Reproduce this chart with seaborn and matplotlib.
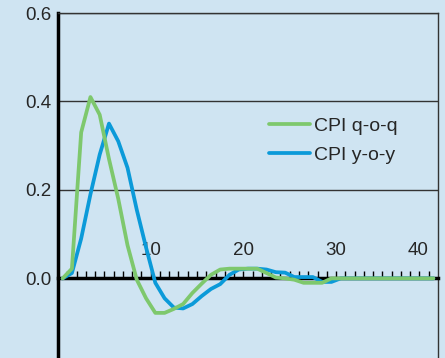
"""
Réponse de l'inflation (CPI q-o-q et y-o-y) sur 40 trimestres.
"""

import matplotlib
matplotlib.use("Agg")
import matplotlib.pyplot as plt
import pandas as pd
import seaborn as sns

# Données (horizon en trimestres)
horizons = list(range(41))
cpi_qoq = [0.0, 0.022, 0.33, 0.41, 0.37, 0.27, 0.18, 0.075, -0.003, -0.045,
           -0.078, -0.078, -0.069, -0.058, -0.033, -0.012, 0.008, 0.02, 0.022, 0.022,
           0.022, 0.022, 0.012, 0.002, 0.0, -0.003, -0.01, -0.01, -0.01, 0.0,
           0.0, 0.0, 0.0, 0.0, 0.0, 0.0, 0.0, 0.0, 0.0, 0.0, 0.0]
cpi_yoy = [0.0, 0.012, 0.09, 0.19, 0.28, 0.35, 0.31, 0.25, 0.155, 0.07,
           -0.01, -0.045, -0.066, -0.068, -0.058, -0.04, -0.024, -0.013, 0.008, 0.02,
           0.022, 0.022, 0.02, 0.014, 0.013, 0.003, 0.003, 0.003, -0.008, -0.008,
           0.0, 0.0, 0.0, 0.0, 0.0, 0.0, 0.0, 0.0, 0.0, 0.0, 0.0]
series_names = ["CPI q-o-q", "CPI y-o-y"]
y_ticks = [0.0, 0.2, 0.4, 0.6]
y_tick_labels = ["0.0", "0.2", "0.4", "0.6"]

BG = "#cfe4f2"
GREEN = "#7ec86d"
BLUE = "#0b9ad9"

sns.set_theme(style="white")
plt.rcParams["font.family"] = ["Liberation Sans", "DejaVu Sans"]

df = pd.DataFrame({
    "horizon": horizons * 2,
    "value": cpi_qoq + cpi_yoy,
    "series": [series_names[0]] * len(horizons) + [series_names[1]] * len(horizons),
})

fig = plt.figure(figsize=(4.45, 3.58), dpi=100)
fig.patch.set_facecolor(BG)
ax = fig.add_axes([58 / 445, 0.0, 380 / 445, 345 / 358])
ax.set_facecolor(BG)

# y-o-y dessiné d'abord, q-o-q par-dessus
sns.lineplot(data=df[df["series"] == series_names[1]], x="horizon", y="value",
             color=BLUE, lw=2.7, zorder=3, ax=ax, label=series_names[1])
sns.lineplot(data=df[df["series"] == series_names[0]], x="horizon", y="value",
             color=GREEN, lw=2.7, zorder=4, ax=ax, label=series_names[0])

ax.set_xlim(-0.5, 40.5)
ax.set_ylim(-0.18, 0.6)
ax.set_xlabel("")
ax.set_ylabel("")

# axe des x sur la ligne zéro, graduations vers le haut
ax.spines["bottom"].set_position(("data", 0))
ax.spines["bottom"].set_linewidth(2.5)
ax.spines["bottom"].set_color("black")
ax.spines["left"].set_linewidth(2.5)
ax.spines["left"].set_color("black")
for side in ["top", "right"]:
    ax.spines[side].set_linewidth(1)
    ax.spines[side].set_color("#333333")

tick_pos = [h + 0.5 for h in horizons[:-1]]
tick_lab = [str(h + 1) if (h + 1) % 10 == 0 else "" for h in horizons[:-1]]
ax.set_xticks(tick_pos)
ax.set_xticklabels(tick_lab)
ax.get_xticklabels()[-1].set_ha("right")
ax.tick_params(axis="x", direction="in", length=5, width=1, color="black",
               pad=-26, labelsize=13.5, bottom=True)

ax.set_yticks(y_ticks)
ax.set_yticklabels(y_tick_labels)
ax.tick_params(axis="y", length=0, pad=5, labelsize=13.5)

ax.yaxis.grid(True, color="#333333", lw=1)
ax.xaxis.grid(False)

handles, labels = ax.get_legend_handles_labels()
ax.legend(handles[::-1], labels[::-1], loc="center left", bbox_to_anchor=(0.555, 0.63),
          frameon=False, fontsize=14, handlelength=2.1, handletextpad=0.2,
          labelspacing=0.55, borderpad=0, borderaxespad=0)

fig.savefig("out.png", dpi=100, facecolor=BG)
plt.close(fig)
